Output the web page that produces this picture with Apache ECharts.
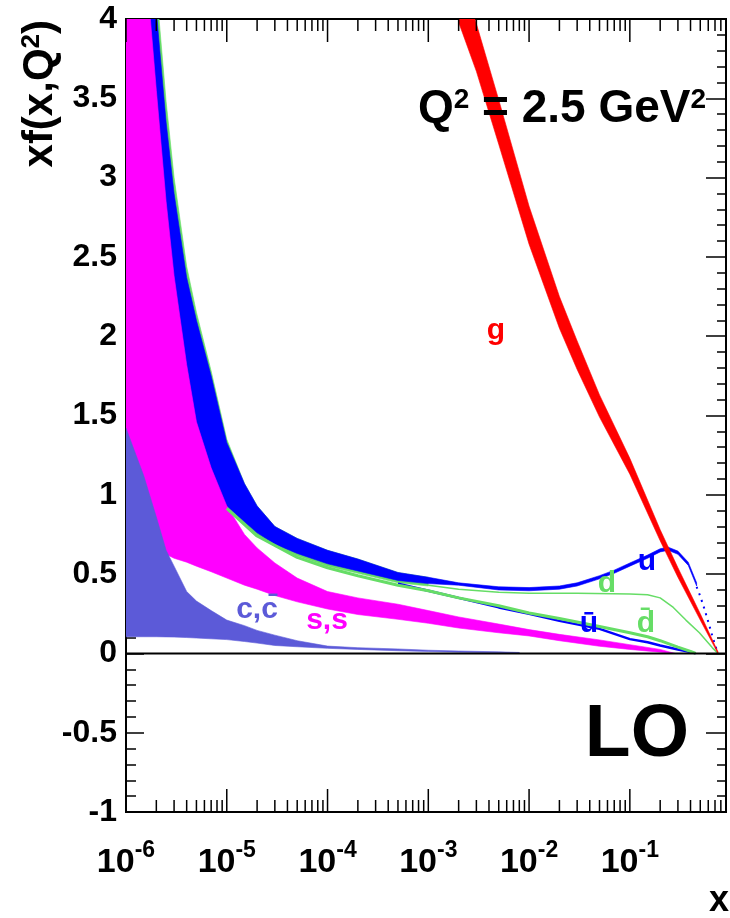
<!DOCTYPE html>
<html><head><meta charset="utf-8">
<script src="https://cdn.jsdelivr.net/npm/echarts@6/dist/echarts.min.js"></script>
<style>html,body{margin:0;padding:0;background:#fff}#c{width:730px;height:918px}</style>
</head><body><div id="c"></div>
<script>
// ---------------- data ----------------
// tick labels / tick positions
const xDecades = [1e-6, 1e-5, 1e-4, 1e-3, 1e-2, 1e-1];
const xDecadeLabels = ['-6', '-5', '-4', '-3', '-2', '-1'];
const xMinor = [2e-6,3e-6,4e-6,5e-6,6e-6,7e-6,8e-6,9e-6,
  2e-5,3e-5,4e-5,5e-5,6e-5,7e-5,8e-5,9e-5,
  2e-4,3e-4,4e-4,5e-4,6e-4,7e-4,8e-4,9e-4,
  2e-3,3e-3,4e-3,5e-3,6e-3,7e-3,8e-3,9e-3,
  0.02,0.03,0.04,0.05,0.06,0.07,0.08,0.09,
  0.2,0.3,0.4,0.5,0.6,0.7,0.8];

// s, sbar band (magenta)
const sX  = [1e-6,1.5e-6,2e-6,2.5e-6,3e-6,4e-6,5e-6,7e-6,1e-5,1.5e-5,2e-5,3e-5,5e-5,1e-4,2e-4,5e-4,1e-3,2e-3,5e-3,1e-2,2e-2,5e-2,0.1,0.2,0.28];
const sHi = [7.0,4.5,3.55,2.85,2.38,1.82,1.46,1.17,0.93,0.75,0.665,0.57,0.475,0.39,0.35,0.31,0.27,0.23,0.185,0.15,0.12,0.085,0.055,0.025,0.0];
const sLo = [0.85,0.75,0.68,0.625,0.6,0.575,0.55,0.515,0.475,0.43,0.405,0.365,0.325,0.28,0.245,0.215,0.19,0.16,0.13,0.11,0.08,0.045,0.025,0.008,0.0];

// c, cbar band (slate blue)
const cX  = [1e-6,1.5e-6,2e-6,2.5e-6,3e-6,4e-6,5e-6,7e-6,1e-5,1.5e-5,2e-5,3e-5,5e-5,1e-4,2e-4,5e-4,1e-3,2e-3,5e-3,8e-3];
const cHi = [1.42,1.12,0.86,0.65,0.55,0.39,0.33,0.27,0.21,0.175,0.145,0.115,0.08,0.046,0.036,0.028,0.02,0.015,0.01,0.006];
const cLo = [0.105,0.105,0.105,0.104,0.103,0.1,0.097,0.092,0.087,0.075,0.065,0.05,0.042,0.032,0.025,0.017,0.012,0.008,0.004,0.002];

// u / ubar band (blue), u valence at high x
const uX  = [1e-6,1.5e-6,2e-6,2.5e-6,3e-6,4e-6,5e-6,7e-6,1e-5,1.5e-5,2e-5,3e-5,5e-5,1e-4,2e-4,5e-4,1e-3,2e-3,5e-3,1e-2,2e-2,3e-2,5e-2,7e-2,0.1,0.15,0.2,0.24,0.3,0.38,0.46];
const uHi = [8.0,5.3,4.05,3.35,2.9,2.37,2.1,1.75,1.33,1.07,0.93,0.80,0.725,0.65,0.595,0.51,0.48,0.445,0.42,0.415,0.425,0.445,0.49,0.525,0.57,0.62,0.66,0.67,0.645,0.575,0.445];
const uLo = [6.0,4.0,3.2,2.6,2.2,1.7,1.38,1.1,0.93,0.83,0.76,0.69,0.63,0.565,0.52,0.46,0.44,0.43,0.40,0.395,0.405,0.425,0.47,0.505,0.55,0.60,0.64,0.65,0.625,0.555,0.425];
const uTailX = [0.46,0.5,0.55,0.6,0.665,0.73,0.75];
const uTail  = [0.42,0.36,0.28,0.2,0.1,0.02,0.0];

// d / dbar band (green) at low x
const gdX  = [1e-6,1.5e-6,2e-6,2.5e-6,3e-6,4e-6,5e-6,7e-6,1e-5,1.5e-5,2e-5,3e-5,5e-5,1e-4,2e-4,5e-4,1e-3];
const gdHi = [8.4,5.5,4.2,3.48,3.0,2.44,2.15,1.78,1.35,1.07,0.93,0.80,0.725,0.65,0.595,0.51,0.48];
const gdLo = [5.9,3.9,3.1,2.5,2.1,1.6,1.3,1.05,0.915,0.815,0.745,0.675,0.615,0.55,0.505,0.445,0.425];

// d (green line)
const dX = [1e-3,2e-3,5e-3,1e-2,3e-2,0.1,0.15,0.2,0.27,0.36,0.49,0.66,0.75];
const dV = [0.43,0.405,0.385,0.38,0.38,0.375,0.37,0.35,0.29,0.21,0.13,0.035,0.0];
// dbar (green)
const dbX = [1e-5,2e-5,5e-5,1e-4,2e-4,5e-4,1e-3,2e-3,5e-3,1e-2,2e-2,5e-2,0.1,0.15,0.2,0.3,0.4,0.45];
const dbV = [0.915,0.74,0.605,0.54,0.49,0.43,0.395,0.35,0.30,0.255,0.22,0.17,0.13,0.105,0.08,0.04,0.013,0.0];
// ubar (blue)
const ubX = [5e-4,1e-3,2e-3,5e-3,1e-2,2e-2,5e-2,0.1,0.15,0.2,0.3,0.4,0.45];
const ubV = [0.44,0.395,0.35,0.29,0.25,0.205,0.155,0.09,0.07,0.05,0.025,0.008,0.0];

// gluon band (red)
const glX  = [0.002,0.003,0.005,0.01,0.02,0.03,0.05,0.1,0.2,0.3,0.5,0.7,0.75];
const glHi = [4.32,3.97,3.49,2.82,2.25,1.97,1.63,1.23,0.78,0.54,0.25,0.05,0.01];
const glLo = [3.98,3.67,3.21,2.58,2.05,1.79,1.49,1.13,0.71,0.48,0.21,0.035,0.0];

// ---------------- chart ----------------
const F = '"Liberation Sans", Arial, Helvetica, sans-serif';
const C = {mag:'#ff00ff', blu:'#0000ff', grn:'#66dd66', cc:'#5c5ad8', red:'#ff0000'};
const XMIN = 1e-6, XMAX = 0.9, YMIN = -1, YMAX = 4;

function zip3(xs, a, b) { return xs.map((x, i) => [x, a[i], b[i]]); }
function zip2(xs, a) { return xs.map((x, i) => [x, a[i]]); }

function bandSeries(xs, lo, hi, color, z) {
  return {
    type: 'custom', clip: true, z: z, silent: true, animation: false,
    data: zip3(xs, lo, hi),
    encode: {x: 0, y: [1, 2]},
    renderItem: function (params, api) {
      if (params.dataIndexInside !== 0) return;
      const n = params.dataInsideLength;
      const pts = [];
      for (let i = 0; i < n; i++) pts.push(api.coord([api.value(0, i), api.value(2, i)]));
      for (let i = n - 1; i >= 0; i--) pts.push(api.coord([api.value(0, i), api.value(1, i)]));
      return {type: 'polygon', shape: {points: pts}, style: {fill: color, stroke: color, lineWidth: 0.6}};
    }
  };
}
function lineSeries(xs, ys, color, width, z, type) {
  return {
    type: 'line', data: zip2(xs, ys), symbol: 'none', z: z, silent: true, animation: false,
    lineStyle: {color: color, width: width, type: type || 'solid'}, clip: true
  };
}
function tickSeries(vals, len) {
  return {
    type: 'custom', z: 20, silent: true, animation: false,
    data: vals.map(v => [v, 0]), encode: {x: 0, y: 1},
    renderItem: function (params, api) {
      const v = api.value(0);
      const pb = api.coord([v, YMIN]);
      const pt = api.coord([v, YMAX]);
      return {type: 'group', children: [
        {type: 'line', shape: {x1: pb[0], y1: pb[1], x2: pb[0], y2: pb[1] - len}, style: {stroke: '#000', lineWidth: 1.5}},
        {type: 'line', shape: {x1: pt[0], y1: pt[1], x2: pt[0], y2: pt[1] + len}, style: {stroke: '#000', lineWidth: 1.5}}
      ]};
    }
  };
}

function txt(x, y, text, color, size, align, vAlign) {
  return {type: 'text', x: x, y: y, z: 100, silent: true,
    style: {text: text, fill: color, fontSize: size, fontWeight: 'bold', fontFamily: F,
            align: align || 'center', verticalAlign: vAlign || 'middle'}};
}

const chart = echarts.init(document.getElementById('c'), null, {renderer: 'canvas'});
chart.setOption({
  animation: false,
  backgroundColor: '#fff',
  textStyle: {fontFamily: F},
  grid: {left: 126, top: 19, right: 4, bottom: 106, containLabel: false, outerBoundsMode: 'none',
         show: true, borderColor: '#000', borderWidth: 2, backgroundColor: 'transparent'},
  xAxis: [{
    type: 'log', logBase: 10, min: XMIN, max: XMAX, position: 'bottom',
    axisLine: {show: true, onZero: false, lineStyle: {color: '#000', width: 2}},
    axisTick: {show: false}, splitLine: {show: false}, minorTick: {show: false},
    axisLabel: {
      show: true, margin: 27, color: '#000',
      formatter: function (v) {
        const e = Math.log10(v);
        const r = Math.round(e);
        if (Math.abs(e - r) > 1e-6) return '';
        const k = xDecades.findIndex(d => Math.abs(Math.log10(d) - r) < 1e-6);
        if (k < 0) return '';
        return '{b|10}{s|' + xDecadeLabels[k] + '}';
      },
      rich: {
        b: {fontSize: 34, fontWeight: 'bold', fontFamily: F, color: '#000', lineHeight: 48},
        s: {fontSize: 23, fontWeight: 'bold', fontFamily: F, color: '#000', verticalAlign: 'top', lineHeight: 20}
      }
    }
  }, {
    type: 'log', logBase: 10, min: XMIN, max: XMAX, position: 'top',
    axisLine: {show: true, onZero: false, lineStyle: {color: '#000', width: 2}},
    axisTick: {show: false}, axisLabel: {show: false}, splitLine: {show: false}
  }],
  yAxis: [{
    type: 'value', min: YMIN, max: YMAX, interval: 0.5, position: 'left',
    axisLine: {show: true, onZero: false, lineStyle: {color: '#000', width: 2}},
    axisTick: {show: true, inside: true, length: 18, lineStyle: {color: '#000', width: 1.5}},
    minorTick: {show: true, splitNumber: 5, length: 10, lineStyle: {color: '#000', width: 1.5}},
    splitLine: {show: false},
    axisLabel: {show: true, margin: 9, color: '#000', fontSize: 32, fontWeight: 'bold', fontFamily: F,
      showMinLabel: true, showMaxLabel: true,
      formatter: v => String(Math.round(v * 10) / 10)}
  }, {
    type: 'value', min: YMIN, max: YMAX, interval: 0.5, position: 'right',
    axisLine: {show: true, onZero: false, lineStyle: {color: '#000', width: 2}},
    axisTick: {show: true, inside: true, length: 20, lineStyle: {color: '#000', width: 1.5}},
    minorTick: {show: true, splitNumber: 5, length: 9, lineStyle: {color: '#000', width: 1.5}},
    splitLine: {show: false}, axisLabel: {show: false}
  }],
  series: [
    bandSeries(gdX, gdLo, gdHi, C.grn, 2),
    bandSeries(uX, uLo, uHi, C.blu, 3),
    bandSeries(sX, sLo, sHi, C.mag, 4),
    bandSeries(cX, cLo, cHi, C.cc, 5),
    lineSeries(dX, dV, C.grn, 1.5, 6),
    lineSeries(ubX, ubV, C.blu, 2.5, 7),
    lineSeries(dbX, dbV, C.grn, 3, 8),
    lineSeries(uTailX, uTail, C.blu, 2, 8, [2, 5]),
    bandSeries(glX, glLo, glHi, C.red, 9),
    lineSeries([XMIN, XMAX], [0, 0], '#000', 2, 10),
    tickSeries(xDecades, 23),
    tickSeries(xMinor, 12)
  ],
  graphic: [
    {type: 'text', x: 40, y: 20, rotation: Math.PI / 2, z: 100, silent: true,
     style: {text: '{a|xf(x,Q}{s|2}{a|)}', align: 'right', verticalAlign: 'middle',
       rich: {a: {fontSize: 42, fontWeight: 'bold', fontFamily: F, fill: '#000'},
              s: {fontSize: 26, fontWeight: 'bold', fontFamily: F, fill: '#000', verticalAlign: 'top'}}}},
    {type: 'text', x: 706, y: 109, z: 100, silent: true,
     style: {text: '{a|Q}{s|2}{a| = 2.5 GeV}{s|2}', align: 'right', verticalAlign: 'middle',
       rich: {a: {fontSize: 46, fontWeight: 'bold', fontFamily: F, fill: '#000'},
              s: {fontSize: 28, fontWeight: 'bold', fontFamily: F, fill: '#000', verticalAlign: 'top'}}}},
    txt(689, 735, 'LO', '#000', 75, 'right'),
    txt(729, 901, 'x', '#000', 36, 'right'),
    txt(496, 331, 'g', C.red, 30),
    txt(647, 562, 'u', C.blu, 30),
    txt(607, 584, 'd', C.grn, 30),
    txt(589, 624, 'u\u0304', C.blu, 30),
    txt(646, 624, 'd\u0304', C.grn, 30),
    txt(257, 610, 'c,c\u0304', C.cc, 30),
    txt(327, 621, 's,s\u0304', C.mag, 30)
  ]
});
</script>
</body></html>
